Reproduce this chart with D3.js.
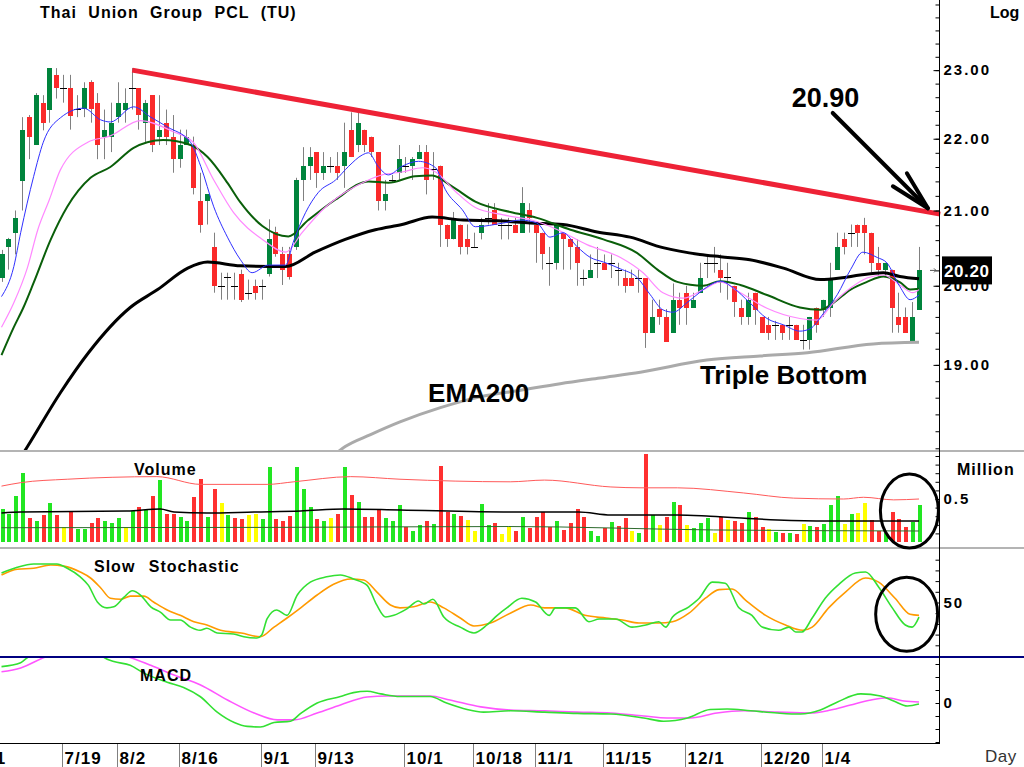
<!DOCTYPE html>
<html>
<head>
<meta charset="utf-8">
<script src="https://cdn.jsdelivr.net/npm/d3@7"></script>
<style>
body { margin: 0; background: #fff; }
svg { display: block; font-family: 'Liberation Sans', Arial, sans-serif; }
.axis text { font-size: 15px; font-weight: bold; letter-spacing: 2px; fill: #000; }
.axis line { stroke: #000; }
.lbl { font-weight: bold; fill: #000; }
</style>
</head>
<body>
<div id="chart"></div>
<script>
// daily candles
var opens = [20.10,20.51,20.70,21.41,22.31,21.91,22.52,22.42,22.93,22.73,
	22.73,22.43,22.43,22.82,22.52,22.03,22.03,22.31,22.42,22.73,
	22.73,22.23,22.63,22.03,22.23,22.03,21.71,21.91,21.91,21.13,
	21.13,20.51,20.00,20.12,20.00,20.15,19.91,20.00,20.00,20.15,
	20.71,20.41,20.41,20.51,21.42,21.62,21.81,21.52,21.62,21.62,
	21.62,22.13,21.91,22.13,22.03,21.81,21.13,21.42,21.52,21.62,
	21.62,21.71,21.81,21.57,21.62,20.81,20.61,20.81,20.61,20.51,
	20.70,20.90,21.00,20.81,20.81,20.81,20.70,21.00,20.81,20.70,
	20.30,20.30,20.70,20.61,20.51,20.10,20.10,20.30,20.30,20.30,
	20.21,20.10,20.10,20.10,20.10,19.40,19.70,19.60,19.40,19.82,
	19.91,19.72,19.91,20.30,20.30,20.21,20.12,20.00,19.72,19.60,
	19.91,19.60,19.50,19.50,19.50,19.50,19.50,19.31,19.31,19.72,
	19.69,19.72,20.21,20.61,20.70,20.81,20.81,20.70,20.30,20.21,
	20.21,19.60,19.60,19.29,19.69];
var highs = [20.47,20.63,21.00,22.31,22.34,22.66,22.63,23.03,23.03,22.93,
	22.93,22.63,22.82,22.85,22.66,22.42,22.52,22.82,22.73,23.03,
	22.73,22.56,22.63,22.63,22.42,22.34,22.13,22.13,22.03,21.52,
	21.22,20.70,20.17,20.17,20.17,20.21,20.08,20.08,20.08,20.88,
	20.78,20.51,20.51,21.45,21.88,21.88,21.81,21.81,21.74,21.81,
	22.23,22.38,22.38,22.13,22.03,21.81,21.42,21.49,21.91,21.74,
	21.74,21.91,21.91,21.81,21.62,20.81,20.98,20.81,20.81,20.70,
	20.90,21.10,21.10,20.90,20.90,20.90,21.32,21.10,20.81,20.70,
	20.51,20.81,20.70,20.61,20.61,20.21,20.41,20.51,20.41,20.41,
	20.30,20.21,20.21,20.21,20.10,19.82,19.82,19.70,20.03,19.91,
	20.00,19.91,20.30,20.41,20.51,20.41,20.30,20.00,19.82,19.91,
	19.91,19.60,19.60,19.55,19.50,19.60,19.50,19.50,19.60,19.72,
	19.82,20.30,20.70,20.70,20.81,20.81,20.90,20.70,20.51,20.30,
	20.21,19.91,19.72,19.79,20.51];
var lows = [20.05,20.21,20.41,21.00,21.71,21.91,22.12,22.23,22.58,22.52,
	22.13,22.31,22.31,22.23,21.71,21.71,21.81,22.23,22.23,22.42,
	22.13,21.95,21.81,21.91,21.91,21.52,21.59,21.91,21.22,20.70,
	20.81,19.91,19.82,19.82,19.82,19.79,19.82,19.82,19.82,20.12,
	20.38,20.01,20.08,20.47,21.13,21.42,21.31,21.42,21.52,21.42,
	21.31,21.74,21.81,21.81,21.74,21.00,21.00,21.38,21.42,21.52,
	21.42,21.71,21.22,21.42,20.51,20.51,20.61,20.41,20.41,20.51,
	20.61,20.81,20.81,20.61,20.61,20.70,20.70,20.70,20.30,20.21,
	20.00,20.21,20.21,20.21,20.00,20.00,20.10,20.10,20.21,20.10,
	20.00,19.91,20.00,19.91,19.21,19.40,19.50,19.29,19.40,19.50,
	19.50,19.72,19.91,20.10,20.17,19.91,19.82,19.60,19.50,19.50,
	19.50,19.40,19.31,19.31,19.31,19.31,19.31,19.19,19.19,19.40,
	19.60,19.60,20.21,20.41,20.51,20.51,20.41,20.17,20.12,20.12,
	19.40,19.40,19.40,19.29,19.69];
var closes = [20.41,20.61,20.90,22.13,22.03,22.63,22.23,23.03,22.73,22.73,
	22.33,22.43,22.73,22.43,21.91,22.13,22.23,22.52,22.52,22.73,
	22.34,22.52,21.91,22.13,22.03,21.71,21.91,22.03,21.31,20.81,
	21.22,20.00,20.00,20.12,20.00,19.82,19.91,19.91,20.00,20.61,
	20.41,20.21,20.12,21.42,21.62,21.74,21.52,21.62,21.62,21.52,
	21.81,21.74,22.23,21.91,21.81,21.13,21.22,21.42,21.71,21.62,
	21.71,21.81,21.42,21.57,20.81,20.61,20.90,20.51,20.51,20.51,
	20.81,20.90,20.81,20.81,20.81,20.70,21.10,20.90,20.70,20.41,
	20.30,20.81,20.61,20.51,20.30,20.10,20.21,20.30,20.21,20.30,
	20.21,20.00,20.00,20.10,19.40,19.60,19.60,19.29,19.82,19.72,
	19.72,19.82,20.10,20.30,20.30,20.10,20.12,19.79,19.60,19.82,
	19.69,19.40,19.40,19.50,19.40,19.50,19.31,19.31,19.60,19.50,
	19.82,20.10,20.51,20.51,20.70,20.70,20.70,20.30,20.21,20.30,
	19.72,19.50,19.40,19.60,20.20];

// volume in million shares, and bar colour code (g up, r down, y unchanged)
var volumes = [0.38,0.33,0.53,0.80,0.28,0.24,0.31,0.45,0.31,0.17,
	0.36,0.15,0.15,0.22,0.28,0.25,0.22,0.28,0.18,0.36,
	0.41,0.37,0.53,0.72,0.33,0.33,0.29,0.24,0.52,0.73,
	0.29,0.62,0.45,0.31,0.28,0.27,0.31,0.33,0.27,0.87,
	0.27,0.24,0.30,0.87,0.62,0.41,0.27,0.24,0.28,0.33,
	0.87,0.55,0.46,0.29,0.29,0.37,0.28,0.24,0.43,0.18,
	0.13,0.20,0.25,0.21,0.88,0.35,0.33,0.30,0.26,0.13,
	0.44,0.20,0.22,0.09,0.18,0.13,0.29,0.16,0.29,0.35,
	0.18,0.25,0.14,0.22,0.38,0.29,0.13,0.07,0.16,0.23,
	0.19,0.28,0.13,0.11,1.02,0.31,0.20,0.29,0.47,0.43,
	0.20,0.16,0.22,0.28,0.11,0.29,0.26,0.25,0.22,0.35,
	0.29,0.17,0.15,0.12,0.11,0.11,0.09,0.21,0.19,0.17,
	0.21,0.43,0.53,0.21,0.32,0.34,0.45,0.26,0.13,0.11,
	0.35,0.27,0.18,0.23,0.43];
var volumeDirs = ('ggggrgrgry' + 'rggrrgggyg' + 'rgrgrrggrr' + 'grygrryygg' +
	'rrrgggrgyr' + 'grgrrrgggr' + 'ggrgrrgryy' + 'ggryyrgrrr' + 'rgrrrrggrg' +
	'rrygrgyrgr' + 'ygggyryrrg' + 'rrygrgrygr' + 'gggygyyrrg' + 'rrrgg').split('');

// indicator lines, [candle index, value]
var emaBlue = [[0,19.86],[1.8,20.25],[2.8,20.70],[4.7,21.47],[6.1,21.95],[8.6,22.30],[12,22.44],[14.5,22.27],[15.9,22.24],[19.3,22.46],[21.8,22.31],[24.2,22.17],[27.6,21.95],[29.1,21.61],[31,21.05],[33,20.64],[34.9,20.34],[36.6,20.17],[39,20.27],[41.5,20.27],[42.6,20.57],[44.4,20.97],[46.3,21.25],[48.8,21.42],[50.7,21.61],[52.7,21.77],[53.6,21.80],[55,21.61],[56.5,21.49],[58.5,21.61],[60.9,21.68],[63.4,21.59],[64.8,21.29],[67.3,21.01],[69.2,20.78],[73.3,20.83],[75.8,20.87],[78.2,20.83],[80.1,20.64],[82,20.70],[84.1,20.51],[86,20.37],[87.9,20.31],[90.4,20.22],[92.8,20.11],[94.7,19.89],[96.6,19.69],[98.1,19.66],[100.1,19.78],[102.5,19.95],[103.5,20.01],[105,20.06],[106.9,19.97],[109.3,19.78],[111.8,19.58],[114.2,19.50],[116.6,19.42],[118.1,19.45],[120,19.64],[122.1,19.89],[124,20.21],[125.8,20.44],[127.9,20.37],[129.3,20.30],[131.2,19.99],[132.7,19.82],[134,19.88]];
var emaPink = [[0,19.47],[1.8,19.78],[3.8,20.24],[5.3,20.74],[7,21.15],[8.6,21.56],[12.6,21.95],[15.9,22.04],[20.3,22.26],[25.1,22.10],[28,21.95],[31,21.42],[33.9,20.97],[38.1,20.61],[41.5,20.44],[43.9,20.70],[46.9,21.01],[50.2,21.25],[53.6,21.42],[55.6,21.49],[58.5,21.53],[61.5,21.59],[63.4,21.53],[66.3,21.26],[69.2,21.04],[73.3,20.94],[78.2,20.85],[81.2,20.74],[85.5,20.54],[90.4,20.37],[93.7,20.17],[96.6,19.91],[99.6,19.84],[102.5,19.95],[105,20.05],[107.9,19.91],[111.8,19.71],[116.6,19.58],[119.1,19.56],[121.5,19.78],[124,19.97],[126.4,20.10],[128.8,20.14],[131.2,20.01],[133.1,19.91],[134,19.95]];
var emaGreen = [[0,19.12],[1.8,19.47],[3.2,19.72],[4.7,20.04],[7.2,20.61],[9.6,21.05],[13,21.45],[15.9,21.60],[19.3,21.87],[21.3,21.95],[23.6,21.98],[27.6,21.91],[30.1,21.74],[33,21.38],[34.9,21.11],[38.1,20.79],[41.9,20.65],[44.8,20.87],[48.8,21.15],[53.6,21.40],[56.5,21.38],[60.4,21.47],[62.9,21.48],[65.8,21.33],[69.2,21.12],[74.3,20.98],[78.2,20.90],[83.1,20.74],[87.9,20.61],[92.8,20.43],[95.8,20.21],[98.7,20.05],[102.5,20.00],[105,20.06],[107.9,20.01],[111.8,19.88],[116.6,19.72],[119.6,19.69],[121.5,19.78],[124,19.95],[126.4,20.05],[128.8,20.12],[131.3,20.04],[132.7,19.95],[134,19.96]];
var emaBlack = [[0,17.55],[3.8,18.02],[8.6,18.66],[12.7,19.15],[18.8,19.72],[22.8,19.95],[27.2,20.23],[30.1,20.31],[34.9,20.26],[41.5,20.25],[45.8,20.44],[50.2,20.61],[54.6,20.74],[58.5,20.81],[62.9,20.91],[67.4,20.87],[72.4,20.86],[77.2,20.83],[82,20.81],[87,20.71],[91.8,20.64],[96.6,20.50],[102,20.41],[105,20.38],[109.3,20.34],[114.2,20.23],[119.6,20.08],[122.5,20.10],[125.4,20.14],[128.8,20.17],[131.2,20.12],[134,20.09]];
var ema200 = [[47.5,17.85],[50.2,18.02],[53.9,18.16],[58.2,18.31],[64.1,18.48],[69.9,18.61],[75.8,18.69],[81.6,18.77],[87.4,18.84],[93.3,18.91],[103,19.06],[110.8,19.11],[117.7,19.15],[127.3,19.26],[134,19.28]];
var trendLine = [[19.1, 23.00], [137.1, 20.95]];

var volMaRed = [[0,0.65],[2.8,0.69],[9.6,0.73],[22.7,0.76],[29.1,0.67],[38.8,0.67],[42.7,0.70],[51,0.76],[58.2,0.73],[74.3,0.70],[79.3,0.72],[89,0.64],[93.4,0.63],[98.7,0.63],[108.4,0.57],[115.7,0.51],[123,0.50],[125.9,0.52],[130.3,0.49],[134,0.50]];
var volMaBlack = [[0,0.337],[2.8,0.349],[18.3,0.36],[23.2,0.384],[25.2,0.349],[30,0.337],[36.9,0.349],[43.7,0.36],[50,0.384],[58.2,0.372],[74.3,0.349],[84.3,0.349],[89,0.314],[98.7,0.314],[103.5,0.30],[113.3,0.256],[120.6,0.244],[134,0.244]];
var volMaGreen = [[0,0.166],[40,0.17],[74,0.18],[104,0.14],[134,0.128]];

var stochK = [[0,77.6],[2.3,83],[4.7,86],[8.1,86],[9.6,82],[11.5,74],[12.7,66],[14,50.5],[15.4,45],[16.4,46],[17.9,55],[19.1,61],[20.3,57],[21.8,46],[23.2,41],[24.7,33.6],[26.1,33.6],[27.6,27],[29,24],[30,26],[31.5,21.5],[33.9,20.6],[35.4,18],[37.3,16.8],[38,19.6],[38.8,35],[40.2,43],[41.7,38],[43.2,57],[45.1,69],[47.5,74],[49.5,75.7],[51.4,72],[53.4,66],[54.8,47.7],[56.1,36.4],[57.3,38],[59.2,44],[60.9,51.4],[61.7,48.6],[63,53],[64.6,36.4],[67,27],[69,21.5],[70.9,29],[72.4,38],[73.8,44.9],[76,54],[78,50.5],[80,38],[80.9,45],[83.8,45],[85.8,32],[87.3,34.6],[89.7,34.6],[92.1,27],[94.1,29],[96,32],[97,27],[98,36.4],[100.4,46],[101.9,54],[103.8,69],[105.7,68],[107.7,45],[109.6,38],[111.1,27],[113.5,24],[115,27],[116,22.4],[116.9,22.4],[118.4,35.5],[120.3,54],[122.3,67],[124.7,77.6],[126.2,78.5],[128.1,64.5],[130.1,45],[132,29],[133,27],[134,36.4]];
var stochD = [[0,75.7],[2.3,81],[4.7,82],[7.2,85],[9.1,84],[11.5,78.5],[13,72.9],[14.5,63.6],[15.9,54],[17.4,53],[18.8,56],[20.8,56],[22.2,50.5],[24.2,43],[26.1,38],[28.1,32],[30,29],[32,24],[35,21.5],[37.8,18],[39.8,27],[41.7,35.5],[43.7,45],[46.1,57],[48.5,67],[51,72],[52.9,71],[54.8,60],[56.8,47.7],[58.2,45],[60.2,46],[62.6,50.5],[64.6,45],[67,35.5],[69,28],[71.4,30.8],[74.3,40],[77.3,47.7],[79.3,45],[82.3,45],[85.2,38],[88.3,35.5],[90.7,33.6],[93.1,30.8],[96,30.8],[98,32],[100.4,40],[102.8,54],[104.8,62],[106.7,62.6],[108.7,52],[111.6,38],[114.5,29],[117,24],[118.4,27],[120.8,45],[123.3,60],[126.2,72.9],[128.1,69],[130.5,54],[132.7,39],[134,38]];

var macdLine = [[0,0.28],[2.8,0.31],[3.8,0.35],[7,0.42],[11,0.44],[14,0.40],[15,0.35],[16.4,0.32],[18.8,0.29],[20.8,0.23],[24.2,0.16],[26.6,0.12],[29,0.05],[31.5,-0.07],[34,-0.15],[35.9,-0.18],[37.8,-0.185],[39.8,-0.15],[42.2,-0.14],[43.7,-0.08],[46.1,0],[49.5,0.05],[51.4,0.08],[53.4,0.09],[55.4,0.07],[58.2,0.05],[62.6,0.05],[65,0],[68,-0.05],[70.4,-0.07],[74.3,-0.06],[79.3,-0.07],[84.1,-0.08],[89,-0.085],[93.8,-0.115],[96.7,-0.14],[100.2,-0.115],[103.5,-0.05],[106,-0.046],[109.4,-0.06],[113.3,-0.077],[116.7,-0.085],[119.6,-0.054],[122.1,0.008],[125.5,0.07],[128.4,0.054],[130.3,0.015],[132.3,-0.023],[134,-0.008]];
var macdSignal = [[0,0.24],[2.8,0.27],[6.2,0.35],[10,0.42],[14,0.42],[18.8,0.35],[21.8,0.29],[25.2,0.215],[29,0.14],[33,0.023],[36.9,-0.077],[40.3,-0.13],[42.7,-0.13],[46.1,-0.077],[49.5,-0.015],[53.4,0.046],[56.3,0.054],[62.6,0.054],[65.5,0.023],[70,-0.03],[74.3,-0.054],[79.3,-0.06],[84.1,-0.07],[89,-0.077],[93.8,-0.1],[97.2,-0.115],[100.6,-0.115],[104.5,-0.077],[108.4,-0.06],[113.3,-0.07],[118.2,-0.077],[121.1,-0.054],[124,-0.015],[127,0.023],[129.4,0.04],[131.8,0.015],[134,0.008]];

// date ticks (candle index of first session) and right axis labels
var tickIdx = [-3.5, 9, 17, 26, 38, 46, 59, 69, 78, 88, 100, 111, 120];
var tickLabels = ['7/1', '7/19', '8/2', '8/16', '9/1', '9/13', '10/1', '10/18', '11/1', '11/15', '12/1', '12/20', '1/4'];
var priceLabels = [19, 20, 21, 22, 23];
var lastPrice = 20.20;

var plotRight = 939;
var svg = d3.select('#chart').append('svg')
	.attr('width', 1024)
	.attr('height', 767);

var x = d3.scaleLinear().domain([0, 134]).range([1.5, 919]);
var yPrice = d3.scaleLog().domain([17.98, 24.07]).range([450, 0]);
var yVol = d3.scaleLinear().domain([0, 1]).range([542, 456]);
var yStoch = d3.scaleLinear().domain([0, 100]).range([656, 549]);
var yMacd = d3.scaleLinear().domain([-0.3, 0.3462]).range([742, 658]);

var defs = svg.append('defs');
function addClip(id, top, bottom) {
	defs.append('clipPath').attr('id', id)
		.append('rect')
		.attr('x', 0).attr('y', top)
		.attr('width', plotRight).attr('height', bottom - top);
}
addClip('clip-price', 0, 450);
addClip('clip-vol', 453, 547);
addClip('clip-stoch', 549, 656);
addClip('clip-macd', 658, 742);

function drawLine(g, data, yScale, color, width) {
	var line = d3.line()
		.x(function (d) { return x(d[0]); })
		.y(function (d) { return yScale(d[1]); })
		.curve(d3.curveMonotoneX);
	g.append('path')
		.datum(data)
		.attr('d', line)
		.style('fill', 'none')
		.style('stroke', color)
		.style('stroke-width', width)
		.style('stroke-linejoin', 'round');
}

// panel separators
[451, 548].forEach(function (yy) {
	svg.append('line')
		.attr('x1', 0).attr('x2', 1024).attr('y1', yy).attr('y2', yy)
		.style('stroke', '#b4b4b4').style('stroke-width', 2);
});
svg.append('line')
	.attr('x1', 0).attr('x2', 1024).attr('y1', 657).attr('y2', 657)
	.style('stroke', '#000080').style('stroke-width', 2);

// ---- price panel ----
var bars = closes.map(function (c, i) {
	return {i: i, o: opens[i], h: highs[i], l: lows[i], c: c};
});
var pricePanel = svg.append('g').attr('clip-path', 'url(#clip-price)');

pricePanel.selectAll('line.wick')
	.data(bars)
	.enter()
	.append('line')
	.attr('class', 'wick')
	.attr('x1', function (d) { return Math.round(x(d.i)) + 0.5; })
	.attr('x2', function (d) { return Math.round(x(d.i)) + 0.5; })
	.attr('y1', function (d) { return yPrice(d.h); })
	.attr('y2', function (d) { return yPrice(d.l); })
	.style('stroke', '#808080');

pricePanel.selectAll('rect.body')
	.data(bars.filter(function (d) { return Math.abs(d.c - d.o) > 0.005; }))
	.enter()
	.append('rect')
	.attr('class', 'body')
	.attr('x', function (d) { return Math.round(x(d.i)) - 2; })
	.attr('width', 5)
	.attr('y', function (d) { return yPrice(Math.max(d.o, d.c)); })
	.attr('height', function (d) { return Math.max(1, yPrice(Math.min(d.o, d.c)) - yPrice(Math.max(d.o, d.c))); })
	.style('fill', function (d) { return d.c > d.o ? '#00843c' : '#fa2a2a'; })
	.style('shape-rendering', 'crispEdges');

pricePanel.selectAll('line.doji')
	.data(bars.filter(function (d) { return Math.abs(d.c - d.o) <= 0.005; }))
	.enter()
	.append('line')
	.attr('class', 'doji')
	.attr('x1', function (d) { return Math.round(x(d.i)) - 3; })
	.attr('x2', function (d) { return Math.round(x(d.i)) + 4; })
	.attr('y1', function (d) { return Math.round(yPrice(d.c)) + 0.5; })
	.attr('y2', function (d) { return Math.round(yPrice(d.c)) + 0.5; })
	.style('stroke', '#000');

drawLine(pricePanel, ema200, yPrice, '#aaaaaa', 3);
drawLine(pricePanel, emaBlack, yPrice, '#000', 3);
drawLine(pricePanel, emaGreen, yPrice, '#0a5f0a', 2);
drawLine(pricePanel, emaPink, yPrice, '#ff88ff', 1.2);
drawLine(pricePanel, emaBlue, yPrice, '#3030ff', 1);

svg.append('path')
	.datum(trendLine)
	.attr('d', d3.line()
		.x(function (d) { return x(d[0]); })
		.y(function (d) { return yPrice(d[1]); }))
	.style('stroke', '#ee2236')
	.style('stroke-width', 5)
	.style('fill', 'none');

// annotations
var tipX = x(135.3), tipY = yPrice(21.03);
svg.append('line')
	.attr('x1', x(121.4)).attr('y1', yPrice(22.37))
	.attr('x2', tipX).attr('y2', tipY)
	.style('stroke', '#000').style('stroke-width', 4)
	.style('stroke-linecap', 'round');
svg.append('path')
	.attr('d', 'M' + (tipX - 35) + ',' + (tipY - 22) + 'L' + tipX + ',' + tipY + 'L' + (tipX - 21) + ',' + (tipY - 35))
	.style('fill', 'none').style('stroke', '#000').style('stroke-width', 4)
	.style('stroke-linecap', 'round')
	.style('stroke-linejoin', 'round');

svg.append('text').attr('class', 'lbl')
	.attr('x', x(115.4)).attr('y', yPrice(22.46))
	.style('font-size', '27px')
	.text('20.90');
svg.append('text').attr('class', 'lbl')
	.attr('x', x(102)).attr('y', yPrice(18.77))
	.style('font-size', '26px')
	.text('Triple Bottom');
svg.append('text').attr('class', 'lbl')
	.attr('x', x(62.3)).attr('y', yPrice(18.55))
	.style('font-size', '26px')
	.text('EMA200');

svg.append('text').attr('class', 'lbl')
	.attr('x', 40).attr('y', 18)
	.style('font-size', '16px')
	.style('letter-spacing', '1px')
	.style('word-spacing', '6px')
	.text('Thai Union Group PCL (TU)');
svg.append('text').attr('class', 'lbl')
	.attr('x', 990).attr('y', 18)
	.style('font-size', '16px')
	.text('Log');

// right price axis
svg.append('line')
	.attr('x1', plotRight + 0.5).attr('x2', plotRight + 0.5)
	.attr('y1', 0).attr('y2', 743)
	.style('stroke', '#000');

var minorAxis = svg.append('g')
	.attr('class', 'axis')
	.attr('transform', 'translate(' + (plotRight + 0.5) + ',0)')
	.call(d3.axisRight(yPrice)
		.tickValues(d3.range(18, 24.01, 0.2))
		.tickSize(-4)
		.tickFormat(''));
minorAxis.select('.domain').remove();

var majorAxis = svg.append('g')
	.attr('class', 'axis')
	.attr('transform', 'translate(' + (plotRight + 0.5) + ',0)')
	.call(d3.axisRight(yPrice)
		.tickValues(priceLabels)
		.tickSize(-6)
		.tickPadding(4)
		.tickFormat(d3.format('.2f')));
majorAxis.select('.domain').remove();

// last price marker
svg.append('path')
	.attr('d', 'M' + (plotRight - 9) + ',' + yPrice(lastPrice) + 'h6m-2,-2l2,2l-2,2')
	.style('fill', 'none').style('stroke', '#555');
svg.append('rect')
	.attr('x', 942).attr('y', yPrice(lastPrice) - 14)
	.attr('width', 50).attr('height', 28)
	.style('fill', '#000');
svg.append('text')
	.attr('x', 944).attr('y', yPrice(lastPrice))
	.attr('dy', '0.36em')
	.style('fill', '#fff')
	.style('font-weight', 'bold')
	.style('font-size', '17px')
	.style('letter-spacing', '0.6px')
	.text(d3.format('.2f')(lastPrice));

// ---- volume panel ----
var volPanel = svg.append('g').attr('clip-path', 'url(#clip-vol)');
var volColor = {g: '#22e622', r: '#ff3030', y: '#ffff00'};
volPanel.selectAll('rect')
	.data(volumes)
	.enter()
	.append('rect')
	.attr('x', function (d, i) { return Math.round(x(i)) - 1.5; })
	.attr('width', 4)
	.attr('y', function (d) { return yVol(d); })
	.attr('height', function (d) { return yVol(0) - yVol(d); })
	.style('fill', function (d, i) { return volColor[volumeDirs[i]]; })
	.style('shape-rendering', 'crispEdges');
drawLine(volPanel, volMaGreen, yVol, '#2d6a2d', 1);
drawLine(volPanel, volMaBlack, yVol, '#000', 1.5);
drawLine(volPanel, volMaRed, yVol, '#ff5a5a', 1);

var volAxis = svg.append('g')
	.attr('class', 'axis')
	.attr('transform', 'translate(' + (plotRight + 0.5) + ',0)')
	.call(d3.axisRight(yVol)
		.tickValues(d3.range(0.1, 1.01, 0.1))
		.tickSize(-4)
		.tickPadding(4)
		.tickFormat(function (d) { return Math.abs(d - 0.5) < 0.01 ? '0.5' : ''; }));
volAxis.select('.domain').remove();

svg.append('text').attr('class', 'lbl')
	.attr('x', 134).attr('y', 475)
	.style('font-size', '16px').style('letter-spacing', '1px')
	.text('Volume');
svg.append('text').attr('class', 'lbl')
	.attr('x', 957).attr('y', 475)
	.style('font-size', '16px').style('letter-spacing', '1px')
	.text('Million');

svg.append('ellipse')
	.attr('cx', x(132.6)).attr('cy', yVol(0.36))
	.attr('rx', 29).attr('ry', 37)
	.style('fill', 'none').style('stroke', '#000').style('stroke-width', 3);

// ---- slow stochastic ----
var stochPanel = svg.append('g').attr('clip-path', 'url(#clip-stoch)');
drawLine(stochPanel, stochD, yStoch, '#ff9a00', 1.6);
drawLine(stochPanel, stochK, yStoch, '#33e033', 1.6);

var stochAxis = svg.append('g')
	.attr('class', 'axis')
	.attr('transform', 'translate(' + (plotRight + 0.5) + ',0)')
	.call(d3.axisRight(yStoch)
		.tickValues(d3.range(10, 100, 10))
		.tickSize(-4)
		.tickPadding(4)
		.tickFormat(function (d) { return d === 50 ? '50' : ''; }));
stochAxis.select('.domain').remove();

svg.append('text').attr('class', 'lbl')
	.attr('x', 94).attr('y', 572)
	.style('font-size', '16px').style('letter-spacing', '1px').style('word-spacing', '8px')
	.text('Slow Stochastic');

svg.append('ellipse')
	.attr('cx', x(132.2)).attr('cy', yStoch(39))
	.attr('rx', 31).attr('ry', 37)
	.style('fill', 'none').style('stroke', '#000').style('stroke-width', 3);

// ---- MACD ----
var macdPanel = svg.append('g').attr('clip-path', 'url(#clip-macd)');
drawLine(macdPanel, macdSignal, yMacd, '#ff55ff', 1.6);
drawLine(macdPanel, macdLine, yMacd, '#33e033', 1.6);

var macdAxis = svg.append('g')
	.attr('class', 'axis')
	.attr('transform', 'translate(' + (plotRight + 0.5) + ',0)')
	.call(d3.axisRight(yMacd)
		.tickValues(d3.range(-0.3, 0.31, 0.1))
		.tickSize(-4)
		.tickPadding(4)
		.tickFormat(function (d) { return Math.abs(d) < 0.01 ? '0' : ''; }));
macdAxis.select('.domain').remove();

svg.append('text').attr('class', 'lbl')
	.attr('x', 140).attr('y', 681)
	.style('font-size', '16px').style('letter-spacing', '1px')
	.text('MACD');

// ---- date axis ----
svg.append('line')
	.attr('x1', 0).attr('x2', plotRight + 1).attr('y1', 743.5).attr('y2', 743.5)
	.style('stroke', '#000');

var dates = svg.append('g');
tickIdx.forEach(function (t, k) {
	var tx = Math.round(x(t)) - 0.5;
	dates.append('line')
		.attr('x1', tx).attr('x2', tx)
		.attr('y1', 744).attr('y2', 767)
		.style('stroke', '#808080');
	dates.append('text')
		.attr('class', 'lbl')
		.attr('x', tx + 2).attr('y', 764)
		.style('font-size', '17px')
		.style('letter-spacing', '1px')
		.text(tickLabels[k]);
});

svg.append('text')
	.attr('x', 985).attr('y', 762)
	.style('font-size', '17px')
	.style('fill', '#333')
	.style('letter-spacing', '0.5px')
	.text('Day');
</script>
</body>
</html>
